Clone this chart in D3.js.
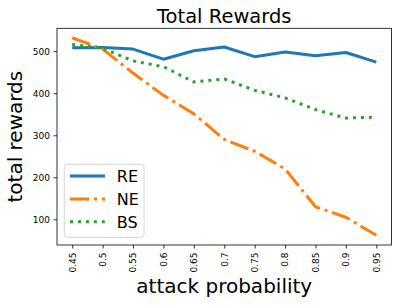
<!DOCTYPE html>
<html>
<head>
<meta charset="utf-8">
<script src="https://cdn.jsdelivr.net/npm/d3@7"></script>
<style>
  body { margin: 0; background: #fff; }
  svg { font-family: "DejaVu Sans", sans-serif; }
</style>
</head>
<body>
<script>
let probs = ["0.45", "0.5", "0.55", "0.6", "0.65", "0.7", "0.75", "0.8", "0.85", "0.9", "0.95"];
let reValues = [508, 509, 505, 481, 501, 510, 487, 498, 489, 497, 474];
let neValues = [532, 505, 448, 395, 351, 290, 262, 220, 130, 105, 62];
let bsValues = [516, 507, 477, 463, 427, 434, 407, 389, 361, 341, 343];
let seriesNames = ["RE", "NE", "BS"];
let yTicks = [100, 200, 300, 400, 500];

let width = 398;
let height = 305;
let plotLeft = 57, plotRight = 391.5, plotTop = 28.3, plotBottom = 245;

let svg = d3.select("body").append("svg")
    .attr("width", width)
    .attr("height", height);

let x = d3.scalePoint()
    .domain(probs)
    .range([plotLeft, plotRight])
    .padding(0.5);

let y = d3.scaleLinear()
    .domain([38.9, 554.5])
    .range([plotBottom, plotTop]);

let colors = ["#1f77b4", "#ff7f0e", "#2ca02c"];
let dashes = ["none", "19.2,4.8,3,4.8", "3,4.95"];
let allSeries = [reValues, neValues, bsValues];

let line = d3.line()
    .x((d, i) => x(probs[i]))
    .y(d => y(d));

svg.selectAll(".series")
    .data(allSeries)
    .join("path")
    .attr("class", "series")
    .attr("d", d => line(d))
    .attr("fill", "none")
    .attr("stroke", (_, i) => colors[i])
    .attr("stroke-width", 3)
    .attr("stroke-dasharray", (_, i) => dashes[i])
    .attr("stroke-linejoin", "round");

// axes
let xAxis = svg.append("g")
    .attr("transform", `translate(0,${plotBottom})`)
    .call(d3.axisBottom(x).tickSize(3.5).tickPadding(3.5).tickSizeOuter(0));
xAxis.select(".domain").remove();
xAxis.selectAll("text")
    .attr("transform", "rotate(-90)")
    .attr("x", -7.5)
    .attr("y", 0)
    .attr("dy", "0.32em")
    .attr("text-anchor", "end");

let yAxis = svg.append("g")
    .attr("transform", `translate(${plotLeft},0)`)
    .call(d3.axisLeft(y).tickValues(yTicks).tickSize(3.5).tickPadding(3.5));
yAxis.select(".domain").remove();

svg.selectAll(".tick line").attr("stroke", "#000").attr("stroke-width", 0.8);
svg.selectAll(".tick text").attr("font-size", 9).attr("fill", "#000")
    .attr("font-family", "DejaVu Sans");

svg.append("rect")
    .attr("x", plotLeft)
    .attr("y", plotTop)
    .attr("width", plotRight - plotLeft)
    .attr("height", plotBottom - plotTop)
    .attr("fill", "none")
    .attr("stroke", "#000")
    .attr("stroke-width", 0.8);

// labels
svg.append("text")
    .attr("x", (plotLeft + plotRight) / 2)
    .attr("y", 22.5)
    .attr("text-anchor", "middle")
    .attr("font-size", 19.5)
    .text("Total Rewards");

svg.append("text")
    .attr("x", (plotLeft + plotRight) / 2)
    .attr("y", 293)
    .attr("text-anchor", "middle")
    .attr("font-size", 20)
    .text("attack probability");

svg.append("text")
    .attr("transform", `translate(22,${(plotTop + plotBottom) / 2}) rotate(-90)`)
    .attr("text-anchor", "middle")
    .attr("font-size", 20)
    .text("total rewards");

// legend
let legend = svg.append("g").attr("transform", "translate(64.3,164.3)");
legend.append("rect")
    .attr("width", 79.7)
    .attr("height", 73)
    .attr("rx", 3)
    .attr("fill", "#fff")
    .attr("fill-opacity", 0.8)
    .attr("stroke", "#ccc")
    .attr("stroke-width", 0.8);

let items = legend.selectAll(".legend-item")
    .data(seriesNames)
    .join("g")
    .attr("class", "legend-item")
    .attr("transform", (d, i) => `translate(0,${11.8 + i * 22.8})`);
items.append("line")
    .attr("x1", 5.7)
    .attr("x2", 40.7)
    .attr("stroke", (_, i) => colors[i])
    .attr("stroke-width", 3)
    .attr("stroke-dasharray", (_, i) => dashes[i]);
items.append("text")
    .attr("x", 52.5)
    .attr("y", 6)
    .attr("font-size", 16)
    .text(d => d);
</script>
</body>
</html>
